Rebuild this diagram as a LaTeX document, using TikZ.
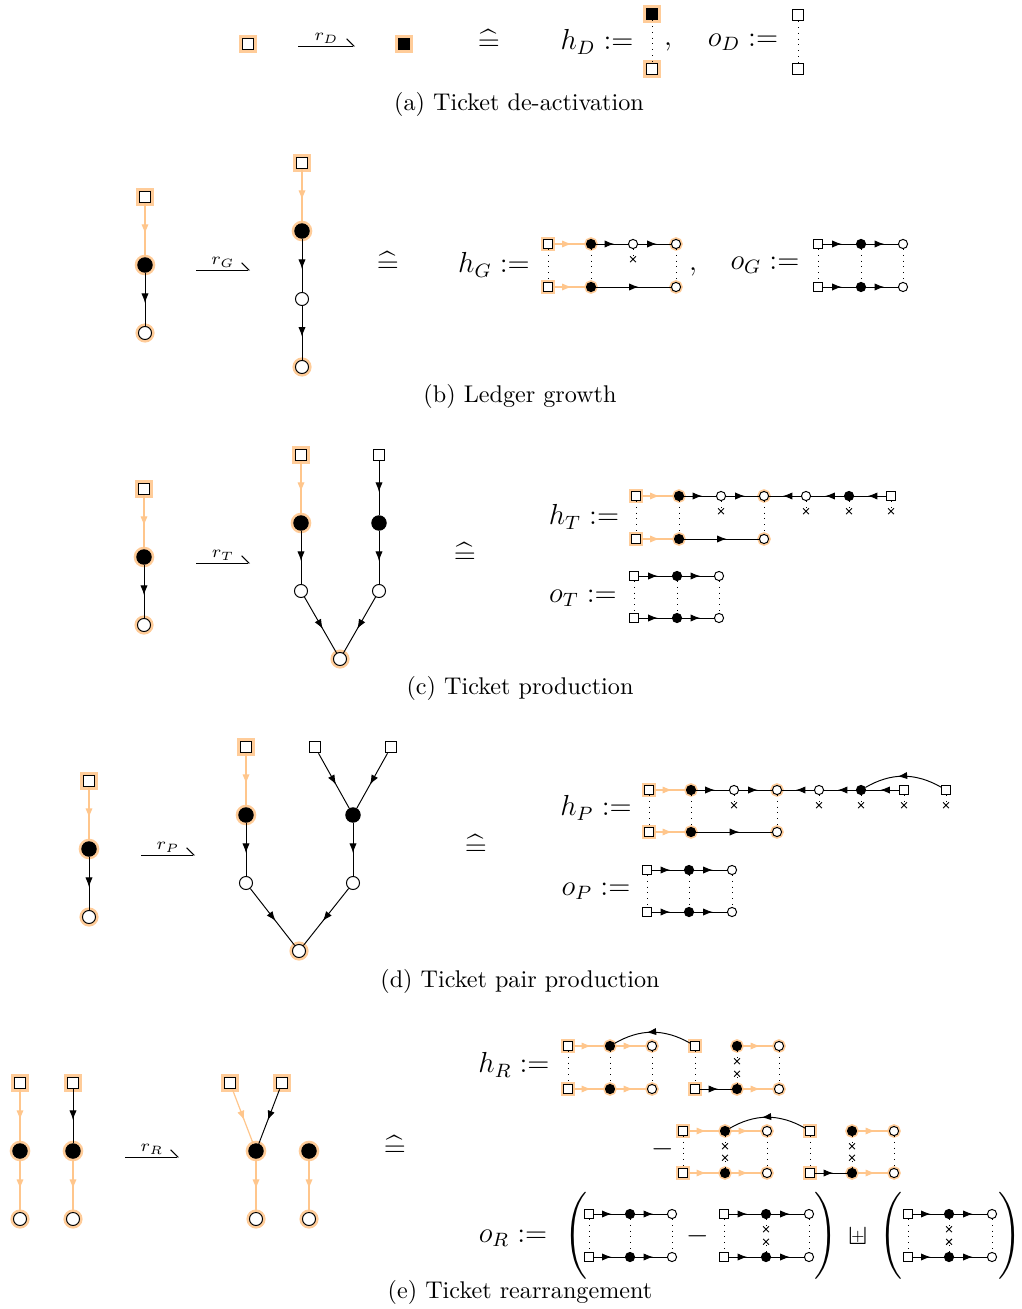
\documentclass[tikz,border=0pt]{standalone}
\usepackage{amsmath,amssymb}
\usepackage{xcolor}
\usepackage{tikz}
\usetikzlibrary{arrows.meta, decorations.markings, shapes.misc, positioning}
\colorlet{hal}{orange!40}
\colorlet{oline}{orange!45}
\newcommand{\tkplus}{\mathbin{\mbox{\ooalign{$\sqcup$\cr\hfil\raise.3ex\hbox{$\scriptscriptstyle+$}\hfil\cr}}}}

\begin{document}
\begin{tikzpicture}[x=0.414pt, y=-0.414pt,
  sq/.style={draw, fill=white, minimum size=4.8pt, inner sep=0pt},
  bsq/.style={sq, fill=black},
  bk/.style={draw, circle, fill=black, minimum size=6pt, inner sep=0pt},
  wh/.style={draw, circle, fill=white, minimum size=5.4pt, inner sep=0pt},
  hl/.style={preaction={draw=hal, line width=2.5pt}},
  ssq/.style={draw, fill=white, minimum size=3.8pt, inner sep=0pt},
  sbk/.style={draw, circle, fill=black, minimum size=3.8pt, inner sep=0pt},
  swh/.style={draw, circle, fill=white, minimum size=3.8pt, inner sep=0pt},
  shl/.style={preaction={draw=hal, line width=1.8pt}},
  arr/.style={postaction={decorate}, decoration={markings, mark=at position .57 with {\arrow{Latex[length=4pt, width=3pt]}}}},
  oarr/.style={arr, draw=oline, color=oline, line width=.5pt},
  tie/.style={dotted},
  xm/.style={draw, cross out, minimum size=2pt, inner sep=0pt},
  rel/.style={font=\large, inner sep=0pt},
  par/.style={font=\large, inner sep=0pt},
  hp/.style={-{Straight Barb[left, length=3pt]}}]
\useasboundingbox (0,0) rectangle (1021,1309);

\node[sq, hl] (a1) at (248,44) {};
\coordinate (ra1) at (298,46);
\coordinate (ra2) at (355,46);
\draw[hp] (ra1) -- (ra2) node[midway, above, inner sep=1pt, font=\scriptsize] (rD) {$r_D$};
\node[bsq, hl] (a2) at (404,44) {};
\node[rel] (eqa) at (489,40) {$\widehat{=}$};
\node[rel] (hD) at (597,42) {$h_D :=$};
\node[bsq, hl] (hD1) at (652,14) {};
\node[sq, hl] (hD2) at (652,69) {};
\draw[tie] (hD1) -- (hD2);
\node[rel] (cma) at (668,47) {,};
\node[rel] (oD) at (743,42) {$o_D :=$};
\node[sq] (oD1) at (798,15) {};
\node[sq] (oD2) at (798,69) {};
\draw[tie] (oD1) -- (oD2);
\node (capa) at (519,104) {(a) Ticket de-activation};

\node[sq, hl] (b1) at (145,197) {};
\node[bk, hl] (b2) at (145,265) {};
\node[wh, hl] (b3) at (145,333) {};
\draw[oarr] (b1) -- (b2);
\draw[arr] (b2) -- (b3);
\coordinate (rb1) at (196,270);
\coordinate (rb2) at (250,270);
\draw[hp] (rb1) -- (rb2) node[midway, above, inner sep=1pt, font=\scriptsize] (rG) {$r_G$};
\node[sq, hl] (b4) at (302,163) {};
\node[bk, hl] (b5) at (302,231) {};
\node[wh] (b6) at (302,299) {};
\node[wh, hl] (b7) at (302,367) {};
\draw[oarr] (b4) -- (b5);
\draw[arr] (b5) -- (b6);
\draw[arr] (b6) -- (b7);
\node[rel] (eqb) at (388,262) {$\widehat{=}$};
\node[rel] (hG) at (494,265) {$h_G :=$};
\node[ssq, shl] (hG1) at (548,244) {};
\node[sbk, shl] (hG2) at (591,244) {};
\node[swh] (hG3) at (633,244) {};
\node[swh, shl] (hG4) at (676,244) {};
\node[ssq, shl] (hG5) at (548,287) {};
\node[sbk, shl] (hG6) at (591,287) {};
\node[swh, shl] (hG7) at (676,287) {};
\node[xm, below = 3pt of hG3] (hGx3) {};
\draw[oarr] (hG1) -- (hG2);
\draw[arr] (hG2) -- (hG3);
\draw[arr] (hG3) -- (hG4);
\draw[oarr] (hG5) -- (hG6);
\draw[arr] (hG6) -- (hG7);
\draw[tie] (hG1) -- (hG5);
\draw[tie] (hG2) -- (hG6);
\draw[tie] (hG4) -- (hG7);
\draw[tie] (hG3) -- (hGx3);
\node[rel] (cmb) at (693,272) {,};
\node[rel] (oG) at (765,265) {$o_G :=$};
\node[ssq] (oG1) at (818,244) {};
\node[sbk] (oG2) at (861,244) {};
\node[swh] (oG3) at (903,244) {};
\node[ssq] (oG4) at (818,287) {};
\node[sbk] (oG5) at (861,287) {};
\node[swh] (oG6) at (903,287) {};
\draw[arr] (oG1) -- (oG2);
\draw[arr] (oG2) -- (oG3);
\draw[arr] (oG4) -- (oG5);
\draw[arr] (oG5) -- (oG6);
\draw[tie] (oG1) -- (oG4);
\draw[tie] (oG2) -- (oG5);
\draw[tie] (oG3) -- (oG6);
\node (capb) at (520,396) {(b) Ledger growth};

\node[sq, hl] (c1) at (144,489) {};
\node[bk, hl] (c2) at (144,557) {};
\node[wh, hl] (c3) at (144,625) {};
\draw[oarr] (c1) -- (c2);
\draw[arr] (c2) -- (c3);
\coordinate (rc1) at (196,563);
\coordinate (rc2) at (250,563);
\draw[hp] (rc1) -- (rc2) node[midway, above, inner sep=1pt, font=\scriptsize] (rT) {$r_T$};
\node[sq, hl] (c4) at (301,455) {};
\node[bk, hl] (c5) at (301,523) {};
\node[wh] (c6) at (301,591) {};
\node[wh, hl] (c7) at (340,659) {};
\node[sq] (c8) at (379,455) {};
\node[bk] (c9) at (379,523) {};
\node[wh] (c10) at (379,591) {};
\draw[oarr] (c4) -- (c5);
\draw[arr] (c5) -- (c6);
\draw[arr] (c6) -- (c7);
\draw[arr] (c8) -- (c9);
\draw[arr] (c9) -- (c10);
\draw[arr] (c10) -- (c7);
\node[rel] (eqc) at (465,553) {$\widehat{=}$};
\node[rel] (hT) at (584,517) {$h_T :=$};
\node[ssq, shl] (hT1) at (636,496) {};
\node[sbk, shl] (hT2) at (679,496) {};
\node[swh] (hT3) at (721,496) {};
\node[swh, shl] (hT4) at (764,496) {};
\node[swh] (hT5) at (806,496) {};
\node[sbk] (hT6) at (849,496) {};
\node[ssq] (hT7) at (891,496) {};
\node[ssq, shl] (hT8) at (636,539) {};
\node[sbk, shl] (hT9) at (679,539) {};
\node[swh, shl] (hT10) at (764,539) {};
\node[xm, below = 3pt of hT3] (hTx3) {};
\node[xm, below = 3pt of hT5] (hTx5) {};
\node[xm, below = 3pt of hT6] (hTx6) {};
\node[xm, below = 3pt of hT7] (hTx7) {};
\draw[oarr] (hT1) -- (hT2);
\draw[arr] (hT2) -- (hT3);
\draw[arr] (hT3) -- (hT4);
\draw[arr] (hT7) -- (hT6);
\draw[arr] (hT6) -- (hT5);
\draw[arr] (hT5) -- (hT4);
\draw[oarr] (hT8) -- (hT9);
\draw[arr] (hT9) -- (hT10);
\draw[tie] (hT1) -- (hT8);
\draw[tie] (hT2) -- (hT9);
\draw[tie] (hT4) -- (hT10);
\draw[tie] (hT3) -- (hTx3);
\draw[tie] (hT5) -- (hTx5);
\draw[tie] (hT6) -- (hTx6);
\draw[tie] (hT7) -- (hTx7);
\node[rel] (oT) at (583,598) {$o_T :=$};
\node[ssq] (oT1) at (634,576) {};
\node[sbk] (oT2) at (677,576) {};
\node[swh] (oT3) at (719,576) {};
\node[ssq] (oT4) at (634,618) {};
\node[sbk] (oT5) at (677,618) {};
\node[swh] (oT6) at (719,618) {};
\draw[arr] (oT1) -- (oT2);
\draw[arr] (oT2) -- (oT3);
\draw[arr] (oT4) -- (oT5);
\draw[arr] (oT5) -- (oT6);
\draw[tie] (oT1) -- (oT4);
\draw[tie] (oT2) -- (oT5);
\draw[tie] (oT3) -- (oT6);
\node (capc) at (520,688) {(c) Ticket production};

\node[sq, hl] (d1) at (89,781) {};
\node[bk, hl] (d2) at (89,849) {};
\node[wh, hl] (d3) at (89,917) {};
\draw[oarr] (d1) -- (d2);
\draw[arr] (d2) -- (d3);
\coordinate (rd1) at (141,855);
\coordinate (rd2) at (195,855);
\draw[hp] (rd1) -- (rd2) node[midway, above, inner sep=1pt, font=\scriptsize] (rP) {$r_P$};
\node[sq, hl] (d4) at (246,747) {};
\node[bk, hl] (d5) at (246,815) {};
\node[wh] (d6) at (246,883) {};
\node[wh, hl] (d7) at (299,951) {};
\node[sq] (d8) at (315,747) {};
\node[sq] (d9) at (391,747) {};
\node[bk] (d10) at (353,815) {};
\node[wh] (d11) at (353,883) {};
\draw[oarr] (d4) -- (d5);
\draw[arr] (d5) -- (d6);
\draw[arr] (d6) -- (d7);
\draw[arr] (d8) -- (d10);
\draw[arr] (d9) -- (d10);
\draw[arr] (d10) -- (d11);
\draw[arr] (d11) -- (d7);
\node[rel] (eqd) at (476,845) {$\widehat{=}$};
\node[rel] (hP) at (596,808) {$h_P :=$};
\node[ssq, shl] (hP1) at (649,790) {};
\node[sbk, shl] (hP2) at (691,790) {};
\node[swh] (hP3) at (734,790) {};
\node[swh, shl] (hP4) at (777,790) {};
\node[swh] (hP5) at (819,790) {};
\node[sbk] (hP6) at (861,790) {};
\node[ssq] (hP7) at (904,790) {};
\node[ssq] (hP8) at (946,790) {};
\node[ssq, shl] (hP9) at (649,832) {};
\node[sbk, shl] (hP10) at (691,832) {};
\node[swh, shl] (hP11) at (777,832) {};
\node[xm, below = 3pt of hP3] (hPx3) {};
\node[xm, below = 3pt of hP5] (hPx5) {};
\node[xm, below = 3pt of hP6] (hPx6) {};
\node[xm, below = 3pt of hP7] (hPx7) {};
\node[xm, below = 3pt of hP8] (hPx8) {};
\draw[oarr] (hP1) -- (hP2);
\draw[arr] (hP2) -- (hP3);
\draw[arr] (hP3) -- (hP4);
\draw[arr] (hP7) -- (hP6);
\draw[arr] (hP6) -- (hP5);
\draw[arr] (hP5) -- (hP4);
\draw[arr] (hP8) to[bend right=30] (hP6);
\draw[oarr] (hP9) -- (hP10);
\draw[arr] (hP10) -- (hP11);
\draw[tie] (hP1) -- (hP9);
\draw[tie] (hP2) -- (hP10);
\draw[tie] (hP4) -- (hP11);
\draw[tie] (hP3) -- (hPx3);
\draw[tie] (hP5) -- (hPx5);
\draw[tie] (hP6) -- (hPx6);
\draw[tie] (hP7) -- (hPx7);
\draw[tie] (hP8) -- (hPx8);
\node[rel] (oP) at (596,891) {$o_P :=$};
\node[ssq] (oP1) at (647,870) {};
\node[sbk] (oP2) at (689,870) {};
\node[swh] (oP3) at (732,870) {};
\node[ssq] (oP4) at (647,912) {};
\node[sbk] (oP5) at (689,912) {};
\node[swh] (oP6) at (732,912) {};
\draw[arr] (oP1) -- (oP2);
\draw[arr] (oP2) -- (oP3);
\draw[arr] (oP4) -- (oP5);
\draw[arr] (oP5) -- (oP6);
\draw[tie] (oP1) -- (oP4);
\draw[tie] (oP2) -- (oP5);
\draw[tie] (oP3) -- (oP6);
\node (capd) at (520,981) {(d) Ticket pair production};

\node[sq, hl] (e1) at (20,1083) {};
\node[bk, hl] (e2) at (20,1151) {};
\node[wh, hl] (e3) at (20,1219) {};
\node[sq, hl] (e4) at (73,1083) {};
\node[bk, hl] (e5) at (73,1151) {};
\node[wh, hl] (e6) at (73,1219) {};
\draw[oarr] (e1) -- (e2);
\draw[oarr] (e2) -- (e3);
\draw[arr] (e4) -- (e5);
\draw[oarr] (e5) -- (e6);
\coordinate (re1) at (125,1157);
\coordinate (re2) at (179,1157);
\draw[hp] (re1) -- (re2) node[midway, above, inner sep=1pt, font=\scriptsize] (rR) {$r_R$};
\node[sq, hl] (e7) at (230,1083) {};
\node[sq, hl] (e8) at (282,1083) {};
\node[bk, hl] (e9) at (256,1151) {};
\node[wh, hl] (e10) at (256,1219) {};
\node[bk, hl] (e11) at (309,1151) {};
\node[wh, hl] (e12) at (309,1219) {};
\draw[oarr] (e7) -- (e9);
\draw[arr] (e8) -- (e9);
\draw[oarr] (e9) -- (e10);
\draw[oarr] (e11) -- (e12);
\node[rel] (eqe) at (395,1146) {$\widehat{=}$};
\node[rel] (hR) at (514,1065) {$h_R :=$};
\node[ssq, shl] (hR1) at (568,1046) {};
\node[sbk, shl] (hR2) at (610,1046) {};
\node[swh, shl] (hR3) at (652,1046) {};
\node[ssq, shl] (hR4) at (695,1046) {};
\node[sbk, shl] (hR5) at (737,1046) {};
\node[swh, shl] (hR6) at (779,1046) {};
\node[ssq, shl] (hR7) at (568,1089) {};
\node[sbk, shl] (hR8) at (610,1089) {};
\node[swh, shl] (hR9) at (652,1089) {};
\node[ssq, shl] (hR10) at (695,1089) {};
\node[sbk, shl] (hR11) at (737,1089) {};
\node[swh, shl] (hR12) at (779,1089) {};
\node[xm, below = 3pt of hR5] (hRx5) {};
\node[xm, above = 3pt of hR11] (hRx11) {};
\draw[oarr] (hR1) -- (hR2);
\draw[oarr] (hR2) -- (hR3);
\draw[oarr] (hR5) -- (hR6);
\draw[arr] (hR4) to[bend right=30] (hR2);
\draw[oarr] (hR7) -- (hR8);
\draw[oarr] (hR8) -- (hR9);
\draw[arr] (hR10) -- (hR11);
\draw[oarr] (hR11) -- (hR12);
\draw[tie] (hR1) -- (hR7);
\draw[tie] (hR2) -- (hR8);
\draw[tie] (hR3) -- (hR9);
\draw[tie] (hR4) -- (hR10);
\draw[tie] (hR6) -- (hR12);
\draw[tie] (hR5) -- (hRx5);
\draw[tie] (hR11) -- (hRx11);
\node[rel] (mn1) at (663,1149) {$-$};
\node[ssq, shl] (hR13) at (683,1131) {};
\node[sbk, shl] (hR14) at (725,1131) {};
\node[swh, shl] (hR15) at (767,1131) {};
\node[ssq, shl] (hR16) at (810,1131) {};
\node[sbk, shl] (hR17) at (852,1131) {};
\node[swh, shl] (hR18) at (894,1131) {};
\node[ssq, shl] (hR19) at (683,1173) {};
\node[sbk, shl] (hR20) at (725,1173) {};
\node[swh, shl] (hR21) at (767,1173) {};
\node[ssq, shl] (hR22) at (810,1173) {};
\node[sbk, shl] (hR23) at (852,1173) {};
\node[swh, shl] (hR24) at (894,1173) {};
\node[xm, below = 3pt of hR14] (hRx14) {};
\node[xm, above = 3pt of hR20] (hRx20) {};
\node[xm, below = 3pt of hR17] (hRx17) {};
\node[xm, above = 3pt of hR23] (hRx23) {};
\draw[oarr] (hR13) -- (hR14);
\draw[oarr] (hR14) -- (hR15);
\draw[oarr] (hR17) -- (hR18);
\draw[arr] (hR16) to[bend right=30] (hR14);
\draw[oarr] (hR19) -- (hR20);
\draw[oarr] (hR20) -- (hR21);
\draw[arr] (hR22) -- (hR23);
\draw[oarr] (hR23) -- (hR24);
\draw[tie] (hR13) -- (hR19);
\draw[tie] (hR15) -- (hR21);
\draw[tie] (hR16) -- (hR22);
\draw[tie] (hR18) -- (hR24);
\draw[tie] (hR14) -- (hRx14);
\draw[tie] (hR20) -- (hRx20);
\draw[tie] (hR17) -- (hRx17);
\draw[tie] (hR23) -- (hRx23);
\node[rel] (oR) at (513,1238) {$o_R :=$};
\node[par] (lp1) at (577,1236) {$\left(\vcenter{\hbox{\rule{0pt}{32pt}}}\right.$};
\node[ssq] (oR1) at (589,1214) {};
\node[sbk] (oR2) at (630,1214) {};
\node[swh] (oR3) at (672,1214) {};
\node[ssq] (oR4) at (589,1257) {};
\node[sbk] (oR5) at (630,1257) {};
\node[swh] (oR6) at (672,1257) {};
\draw[arr] (oR1) -- (oR2);
\draw[arr] (oR2) -- (oR3);
\draw[arr] (oR4) -- (oR5);
\draw[arr] (oR5) -- (oR6);
\draw[tie] (oR1) -- (oR4);
\draw[tie] (oR2) -- (oR5);
\draw[tie] (oR3) -- (oR6);
\node[rel] (mn2) at (698,1236) {$-$};
\node[ssq] (oR7) at (724,1214) {};
\node[sbk] (oR8) at (766,1214) {};
\node[swh] (oR9) at (809,1214) {};
\node[ssq] (oR10) at (724,1257) {};
\node[sbk] (oR11) at (766,1257) {};
\node[swh] (oR12) at (809,1257) {};
\node[xm, below = 3pt of oR8] (oRx8) {};
\node[xm, above = 3pt of oR11] (oRx11) {};
\draw[arr] (oR7) -- (oR8);
\draw[arr] (oR8) -- (oR9);
\draw[arr] (oR10) -- (oR11);
\draw[arr] (oR11) -- (oR12);
\draw[tie] (oR7) -- (oR10);
\draw[tie] (oR9) -- (oR12);
\draw[tie] (oR8) -- (oRx8);
\draw[tie] (oR11) -- (oRx11);
\node[par] (rp1) at (825,1236) {$\left.\vcenter{\hbox{\rule{0pt}{32pt}}}\right)$};
\node[rel] (plu) at (858,1236) {$\tkplus$};
\node[par] (lp2) at (892,1236) {$\left(\vcenter{\hbox{\rule{0pt}{32pt}}}\right.$};
\node[ssq] (oR13) at (908,1214) {};
\node[sbk] (oR14) at (949,1214) {};
\node[swh] (oR15) at (992,1214) {};
\node[ssq] (oR16) at (908,1257) {};
\node[sbk] (oR17) at (949,1257) {};
\node[swh] (oR18) at (992,1257) {};
\node[xm, below = 3pt of oR14] (oRx14) {};
\node[xm, above = 3pt of oR17] (oRx17) {};
\draw[arr] (oR13) -- (oR14);
\draw[arr] (oR14) -- (oR15);
\draw[arr] (oR16) -- (oR17);
\draw[arr] (oR17) -- (oR18);
\draw[tie] (oR13) -- (oR16);
\draw[tie] (oR15) -- (oR18);
\draw[tie] (oR14) -- (oRx14);
\draw[tie] (oR17) -- (oRx17);
\node[par] (rp2) at (1009,1236) {$\left.\vcenter{\hbox{\rule{0pt}{32pt}}}\right)$};
\node (cape) at (520,1292) {(e) Ticket rearrangement};
\end{tikzpicture}
\end{document}
